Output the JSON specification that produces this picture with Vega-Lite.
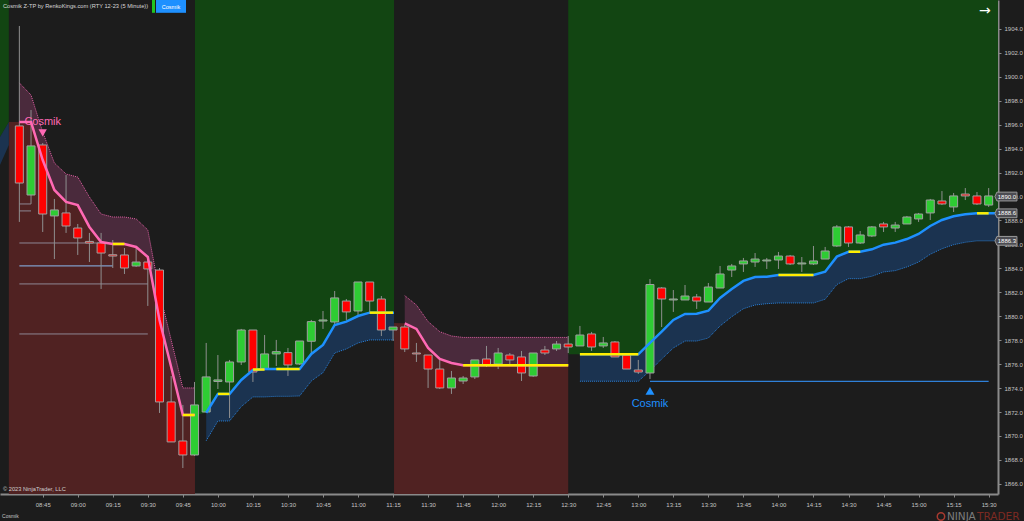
{
  "$schema": "https://vega.github.io/schema/vega-lite/v6.json",
  "width": 998,
  "height": 494,
  "autosize": {"type": "none"},
  "padding": {"left": 0, "top": 0, "right": 26, "bottom": 27},
  "background": "#1c1c1c",
  "config": {"view": {"stroke": null}, "font": "Liberation Sans"},
  "title": {
    "text": "Cosmik Z-TP by RenkoKings.com (RTY 12-23 (5 Minute))",
    "anchor": "start", "frame": "group", "offset": -9, "dx": 3,
    "fontSize": 5.7, "fontWeight": "normal", "color": "#d8d8d8", "font": "Liberation Sans"
  },
  "datasets": {
    "candles": [
      {"t":"2023-10-02T08:35:00Z","open":1895.90,"close":1891.13,"high":1904.25,"low":1887.88},
      {"t":"2023-10-02T08:40:00Z","open":1890.13,"close":1894.23,"high":1897.23,"low":1889.38},
      {"t":"2023-10-02T08:45:00Z","open":1894.31,"close":1888.54,"high":1894.47,"low":1887.04},
      {"t":"2023-10-02T08:50:00Z","open":1888.38,"close":1888.88,"high":1889.80,"low":1884.78},
      {"t":"2023-10-02T08:55:00Z","open":1888.63,"close":1887.54,"high":1891.80,"low":1886.96},
      {"t":"2023-10-02T09:00:00Z","open":1887.37,"close":1886.54,"high":1887.71,"low":1885.12},
      {"t":"2023-10-02T09:05:00Z","open":1886.25,"close":1886.12,"high":1886.96,"low":1884.53},
      {"t":"2023-10-02T09:10:00Z","open":1886.12,"close":1885.28,"high":1886.96,"low":1882.28},
      {"t":"2023-10-02T09:15:00Z","open":1885.14,"close":1885.03,"high":1886.37,"low":1884.03},
      {"t":"2023-10-02T09:20:00Z","open":1885.12,"close":1884.03,"high":1885.70,"low":1883.53},
      {"t":"2023-10-02T09:25:00Z","open":1884.20,"close":1884.53,"high":1885.87,"low":1884.12},
      {"t":"2023-10-02T09:30:00Z","open":1884.53,"close":1883.95,"high":1884.87,"low":1880.86},
      {"t":"2023-10-02T09:35:00Z","open":1883.86,"close":1872.84,"high":1884.03,"low":1871.92},
      {"t":"2023-10-02T09:40:00Z","open":1872.84,"close":1869.50,"high":1875.01,"low":1869.50},
      {"t":"2023-10-02T09:45:00Z","open":1869.58,"close":1868.41,"high":1872.59,"low":1867.32},
      {"t":"2023-10-02T09:50:00Z","open":1868.41,"close":1872.59,"high":1874.51,"low":1868.33},
      {"t":"2023-10-02T09:55:00Z","open":1872.00,"close":1874.93,"high":1877.77,"low":1872.00},
      {"t":"2023-10-02T10:00:00Z","open":1874.55,"close":1874.68,"high":1876.76,"low":1873.92},
      {"t":"2023-10-02T10:05:00Z","open":1874.51,"close":1876.18,"high":1876.35,"low":1871.50},
      {"t":"2023-10-02T10:10:00Z","open":1876.18,"close":1878.85,"high":1878.94,"low":1875.93},
      {"t":"2023-10-02T10:15:00Z","open":1878.85,"close":1875.34,"high":1878.85,"low":1874.51},
      {"t":"2023-10-02T10:20:00Z","open":1875.59,"close":1876.85,"high":1878.43,"low":1875.51},
      {"t":"2023-10-02T10:25:00Z","open":1876.85,"close":1877.04,"high":1878.02,"low":1875.84},
      {"t":"2023-10-02T10:30:00Z","open":1876.96,"close":1875.93,"high":1877.35,"low":1875.01},
      {"t":"2023-10-02T10:35:00Z","open":1876.01,"close":1877.93,"high":1877.93,"low":1875.93},
      {"t":"2023-10-02T10:40:00Z","open":1877.91,"close":1879.55,"high":1879.69,"low":1876.76},
      {"t":"2023-10-02T10:45:00Z","open":1879.60,"close":1879.69,"high":1880.44,"low":1878.94},
      {"t":"2023-10-02T10:50:00Z","open":1879.52,"close":1881.53,"high":1882.11,"low":1879.27},
      {"t":"2023-10-02T10:55:00Z","open":1881.27,"close":1880.36,"high":1881.44,"low":1879.69},
      {"t":"2023-10-02T11:00:00Z","open":1880.44,"close":1882.86,"high":1882.86,"low":1880.11},
      {"t":"2023-10-02T11:05:00Z","open":1882.86,"close":1881.27,"high":1882.86,"low":1880.27},
      {"t":"2023-10-02T11:10:00Z","open":1881.44,"close":1878.85,"high":1881.69,"low":1878.35},
      {"t":"2023-10-02T11:15:00Z","open":1878.85,"close":1879.10,"high":1879.10,"low":1877.93},
      {"t":"2023-10-02T11:20:00Z","open":1879.10,"close":1877.27,"high":1879.27,"low":1877.01},
      {"t":"2023-10-02T11:25:00Z","open":1876.93,"close":1876.85,"high":1877.77,"low":1876.18},
      {"t":"2023-10-02T11:30:00Z","open":1876.76,"close":1875.59,"high":1876.76,"low":1874.01},
      {"t":"2023-10-02T11:35:00Z","open":1875.59,"close":1874.01,"high":1876.43,"low":1873.92},
      {"t":"2023-10-02T11:40:00Z","open":1874.01,"close":1874.84,"high":1875.43,"low":1873.51},
      {"t":"2023-10-02T11:45:00Z","open":1874.59,"close":1874.84,"high":1875.01,"low":1874.34},
      {"t":"2023-10-02T11:50:00Z","open":1874.93,"close":1876.35,"high":1876.35,"low":1874.76},
      {"t":"2023-10-02T11:55:00Z","open":1876.43,"close":1875.93,"high":1877.52,"low":1875.76},
      {"t":"2023-10-02T12:00:00Z","open":1876.01,"close":1876.93,"high":1877.35,"low":1875.59},
      {"t":"2023-10-02T12:05:00Z","open":1876.76,"close":1876.35,"high":1876.93,"low":1876.01},
      {"t":"2023-10-02T12:10:00Z","open":1876.60,"close":1875.26,"high":1877.10,"low":1874.59},
      {"t":"2023-10-02T12:15:00Z","open":1875.01,"close":1876.93,"high":1876.93,"low":1874.93},
      {"t":"2023-10-02T12:20:00Z","open":1877.18,"close":1876.93,"high":1877.52,"low":1876.76},
      {"t":"2023-10-02T12:25:00Z","open":1877.27,"close":1877.68,"high":1877.93,"low":1877.10},
      {"t":"2023-10-02T12:30:00Z","open":1877.68,"close":1877.43,"high":1878.35,"low":1876.93},
      {"t":"2023-10-02T12:35:00Z","open":1877.52,"close":1878.43,"high":1879.19,"low":1877.52},
      {"t":"2023-10-02T12:40:00Z","open":1878.52,"close":1877.43,"high":1878.69,"low":1877.10},
      {"t":"2023-10-02T12:45:00Z","open":1877.52,"close":1877.77,"high":1878.27,"low":1877.35},
      {"t":"2023-10-02T12:50:00Z","open":1877.85,"close":1876.60,"high":1877.93,"low":1876.60},
      {"t":"2023-10-02T12:55:00Z","open":1876.76,"close":1875.59,"high":1876.76,"low":1875.59},
      {"t":"2023-10-02T13:00:00Z","open":1875.51,"close":1875.34,"high":1876.35,"low":1875.18},
      {"t":"2023-10-02T13:05:00Z","open":1875.26,"close":1882.65,"high":1883.11,"low":1874.76},
      {"t":"2023-10-02T13:10:00Z","open":1882.36,"close":1881.44,"high":1882.44,"low":1879.10},
      {"t":"2023-10-02T13:15:00Z","open":1881.36,"close":1881.44,"high":1882.19,"low":1880.36},
      {"t":"2023-10-02T13:20:00Z","open":1881.36,"close":1881.69,"high":1882.61,"low":1881.36},
      {"t":"2023-10-02T13:25:00Z","open":1881.61,"close":1881.27,"high":1881.86,"low":1880.61},
      {"t":"2023-10-02T13:30:00Z","open":1881.19,"close":1882.44,"high":1882.78,"low":1881.19},
      {"t":"2023-10-02T13:35:00Z","open":1882.36,"close":1883.53,"high":1884.20,"low":1882.36},
      {"t":"2023-10-02T13:40:00Z","open":1883.86,"close":1884.20,"high":1884.37,"low":1883.28},
      {"t":"2023-10-02T13:45:00Z","open":1884.37,"close":1884.62,"high":1884.87,"low":1883.70},
      {"t":"2023-10-02T13:50:00Z","open":1884.53,"close":1884.78,"high":1885.28,"low":1884.12},
      {"t":"2023-10-02T13:55:00Z","open":1884.62,"close":1884.70,"high":1884.87,"low":1883.95},
      {"t":"2023-10-02T14:00:00Z","open":1884.70,"close":1885.03,"high":1885.37,"low":1883.95},
      {"t":"2023-10-02T14:05:00Z","open":1885.03,"close":1884.37,"high":1885.12,"low":1884.28},
      {"t":"2023-10-02T14:10:00Z","open":1884.37,"close":1884.45,"high":1884.95,"low":1883.70},
      {"t":"2023-10-02T14:15:00Z","open":1884.37,"close":1884.62,"high":1885.87,"low":1884.28},
      {"t":"2023-10-02T14:20:00Z","open":1884.78,"close":1885.45,"high":1885.79,"low":1884.78},
      {"t":"2023-10-02T14:25:00Z","open":1885.87,"close":1887.46,"high":1887.62,"low":1885.79},
      {"t":"2023-10-02T14:30:00Z","open":1887.46,"close":1886.12,"high":1887.54,"low":1885.79},
      {"t":"2023-10-02T14:35:00Z","open":1886.12,"close":1886.79,"high":1887.12,"low":1886.04},
      {"t":"2023-10-02T14:40:00Z","open":1886.71,"close":1887.46,"high":1887.54,"low":1886.62},
      {"t":"2023-10-02T14:45:00Z","open":1887.71,"close":1887.46,"high":1887.88,"low":1887.04},
      {"t":"2023-10-02T14:50:00Z","open":1887.37,"close":1887.62,"high":1887.88,"low":1887.04},
      {"t":"2023-10-02T14:55:00Z","open":1887.71,"close":1888.29,"high":1888.38,"low":1887.71},
      {"t":"2023-10-02T15:00:00Z","open":1888.13,"close":1888.54,"high":1888.63,"low":1887.88},
      {"t":"2023-10-02T15:05:00Z","open":1888.63,"close":1889.71,"high":1889.80,"low":1888.04},
      {"t":"2023-10-02T15:10:00Z","open":1889.63,"close":1889.38,"high":1890.46,"low":1889.29},
      {"t":"2023-10-02T15:15:00Z","open":1889.13,"close":1890.05,"high":1890.30,"low":1888.71},
      {"t":"2023-10-02T15:20:00Z","open":1890.21,"close":1890.05,"high":1890.71,"low":1889.71},
      {"t":"2023-10-02T15:25:00Z","open":1890.05,"close":1889.38,"high":1890.38,"low":1889.29},
      {"t":"2023-10-02T15:30:00Z","open":1889.29,"close":1890.05,"high":1890.71,"low":1889.13}
    ],
    "ribbon": [
      {"t":"2023-10-02T08:26:43Z","seg":"A","trend":"up","mid":1894.98,"edge":1892.64},
      {"t":"2023-10-02T08:30:30Z","seg":"A","trend":"up","mid":1896.23,"edge":1894.31},
      {"t":"2023-10-02T08:30:30Z","seg":"B","trend":"down","mid":1896.23,"edge":null},
      {"t":"2023-10-02T08:35:00Z","seg":"B","trend":"down","mid":1896.23,"edge":1899.49},
      {"t":"2023-10-02T08:40:00Z","seg":"B","trend":"down","mid":1896.23,"edge":1898.48},
      {"t":"2023-10-02T08:45:00Z","seg":"B","trend":"down","mid":1893.05,"edge":1895.39},
      {"t":"2023-10-02T08:50:00Z","seg":"B","trend":"down","mid":1890.55,"edge":1892.80},
      {"t":"2023-10-02T08:55:00Z","seg":"B","trend":"down","mid":1889.55,"edge":1891.88},
      {"t":"2023-10-02T09:00:00Z","seg":"B","trend":"down","mid":1889.29,"edge":1891.63},
      {"t":"2023-10-02T09:05:00Z","seg":"B","trend":"down","mid":1887.46,"edge":1889.96},
      {"t":"2023-10-02T09:10:00Z","seg":"B","trend":"down","mid":1886.20,"edge":1888.54},
      {"t":"2023-10-02T09:15:00Z","seg":"B","trend":"down","mid":1886.04,"edge":1888.29},
      {"t":"2023-10-02T09:20:00Z","seg":"B","trend":"down","mid":1886.04,"edge":1888.29},
      {"t":"2023-10-02T09:25:00Z","seg":"B","trend":"down","mid":1885.79,"edge":1888.13},
      {"t":"2023-10-02T09:30:00Z","seg":"B","trend":"down","mid":1884.95,"edge":1887.21},
      {"t":"2023-10-02T09:35:00Z","seg":"B","trend":"down","mid":1879.69,"edge":1882.03},
      {"t":"2023-10-02T09:40:00Z","seg":"B","trend":"down","mid":1875.76,"edge":1878.02},
      {"t":"2023-10-02T09:45:00Z","seg":"B","trend":"down","mid":1871.75,"edge":1874.01},
      {"t":"2023-10-02T09:50:12Z","seg":"B","trend":"down","mid":1871.75,"edge":1874.01},
      {"t":"2023-10-02T09:50:12Z","seg":"C","trend":"up","mid":1871.75,"edge":null},
      {"t":"2023-10-02T09:55:00Z","seg":"C","trend":"up","mid":1871.94,"edge":1869.60},
      {"t":"2023-10-02T10:00:00Z","seg":"C","trend":"up","mid":1873.51,"edge":1871.25},
      {"t":"2023-10-02T10:05:00Z","seg":"C","trend":"up","mid":1873.51,"edge":1871.25},
      {"t":"2023-10-02T10:10:00Z","seg":"C","trend":"up","mid":1874.68,"edge":1872.45},
      {"t":"2023-10-02T10:15:00Z","seg":"C","trend":"up","mid":1875.51,"edge":1873.26},
      {"t":"2023-10-02T10:20:00Z","seg":"C","trend":"up","mid":1875.59,"edge":1873.26},
      {"t":"2023-10-02T10:25:00Z","seg":"C","trend":"up","mid":1875.59,"edge":1873.31},
      {"t":"2023-10-02T10:30:00Z","seg":"C","trend":"up","mid":1875.59,"edge":1873.31},
      {"t":"2023-10-02T10:35:00Z","seg":"C","trend":"up","mid":1875.59,"edge":1873.34},
      {"t":"2023-10-02T10:40:00Z","seg":"C","trend":"up","mid":1876.85,"edge":1874.59},
      {"t":"2023-10-02T10:45:00Z","seg":"C","trend":"up","mid":1877.60,"edge":1875.29},
      {"t":"2023-10-02T10:50:00Z","seg":"C","trend":"up","mid":1879.27,"edge":1876.93},
      {"t":"2023-10-02T10:55:00Z","seg":"C","trend":"up","mid":1879.55,"edge":1877.27},
      {"t":"2023-10-02T11:00:00Z","seg":"C","trend":"up","mid":1880.02,"edge":1877.77},
      {"t":"2023-10-02T11:05:00Z","seg":"C","trend":"up","mid":1880.30,"edge":1878.02},
      {"t":"2023-10-02T11:10:00Z","seg":"C","trend":"up","mid":1880.30,"edge":1878.02},
      {"t":"2023-10-02T11:15:25Z","seg":"C","trend":"up","mid":1880.30,"edge":1878.02},
      {"t":"2023-10-02T11:15:25Z","seg":"D","trend":"down","mid":1879.44,"edge":null},
      {"t":"2023-10-02T11:20:00Z","seg":"D","trend":"down","mid":1879.41,"edge":1881.72},
      {"t":"2023-10-02T11:25:00Z","seg":"D","trend":"down","mid":1878.94,"edge":1880.94},
      {"t":"2023-10-02T11:30:00Z","seg":"D","trend":"down","mid":1877.35,"edge":1879.55},
      {"t":"2023-10-02T11:35:00Z","seg":"D","trend":"down","mid":1876.43,"edge":1878.71},
      {"t":"2023-10-02T11:40:00Z","seg":"D","trend":"down","mid":1876.09,"edge":1878.35},
      {"t":"2023-10-02T11:45:00Z","seg":"D","trend":"down","mid":1875.90,"edge":1878.23},
      {"t":"2023-10-02T12:00:00Z","seg":"D","trend":"down","mid":1875.90,"edge":1878.23},
      {"t":"2023-10-02T12:30:00Z","seg":"D","trend":"down","mid":1875.90,"edge":1878.23},
      {"t":"2023-10-02T12:30:00Z","seg":"E","trend":"up","mid":1876.82,"edge":null},
      {"t":"2023-10-02T12:35:00Z","seg":"E","trend":"up","mid":1876.82,"edge":1874.57},
      {"t":"2023-10-02T13:00:00Z","seg":"E","trend":"up","mid":1876.82,"edge":1874.57},
      {"t":"2023-10-02T13:05:00Z","seg":"E","trend":"up","mid":1877.77,"edge":1875.45},
      {"t":"2023-10-02T13:10:00Z","seg":"E","trend":"up","mid":1878.71,"edge":1876.43},
      {"t":"2023-10-02T13:15:00Z","seg":"E","trend":"up","mid":1879.69,"edge":1877.35},
      {"t":"2023-10-02T13:20:00Z","seg":"E","trend":"up","mid":1880.19,"edge":1877.93},
      {"t":"2023-10-02T13:25:00Z","seg":"E","trend":"up","mid":1880.21,"edge":1877.93},
      {"t":"2023-10-02T13:30:00Z","seg":"E","trend":"up","mid":1880.46,"edge":1878.18},
      {"t":"2023-10-02T13:35:00Z","seg":"E","trend":"up","mid":1881.53,"edge":1879.19},
      {"t":"2023-10-02T13:40:00Z","seg":"E","trend":"up","mid":1882.28,"edge":1879.96},
      {"t":"2023-10-02T13:45:00Z","seg":"E","trend":"up","mid":1882.95,"edge":1880.63},
      {"t":"2023-10-02T13:50:00Z","seg":"E","trend":"up","mid":1883.28,"edge":1880.94},
      {"t":"2023-10-02T13:55:00Z","seg":"E","trend":"up","mid":1883.30,"edge":1881.05},
      {"t":"2023-10-02T14:00:00Z","seg":"E","trend":"up","mid":1883.45,"edge":1881.11},
      {"t":"2023-10-02T14:15:00Z","seg":"E","trend":"up","mid":1883.45,"edge":1881.11},
      {"t":"2023-10-02T14:20:00Z","seg":"E","trend":"up","mid":1883.72,"edge":1881.42},
      {"t":"2023-10-02T14:25:00Z","seg":"E","trend":"up","mid":1884.98,"edge":1882.65},
      {"t":"2023-10-02T14:30:00Z","seg":"E","trend":"up","mid":1885.39,"edge":1883.14},
      {"t":"2023-10-02T14:35:00Z","seg":"E","trend":"up","mid":1885.39,"edge":1883.14},
      {"t":"2023-10-02T14:40:00Z","seg":"E","trend":"up","mid":1885.59,"edge":1883.34},
      {"t":"2023-10-02T14:45:00Z","seg":"E","trend":"up","mid":1885.98,"edge":1883.70},
      {"t":"2023-10-02T14:50:00Z","seg":"E","trend":"up","mid":1886.15,"edge":1883.81},
      {"t":"2023-10-02T14:55:00Z","seg":"E","trend":"up","mid":1886.45,"edge":1884.12},
      {"t":"2023-10-02T15:00:00Z","seg":"E","trend":"up","mid":1886.87,"edge":1884.53},
      {"t":"2023-10-02T15:05:00Z","seg":"E","trend":"up","mid":1887.54,"edge":1885.18},
      {"t":"2023-10-02T15:10:00Z","seg":"E","trend":"up","mid":1888.04,"edge":1885.64},
      {"t":"2023-10-02T15:15:00Z","seg":"E","trend":"up","mid":1888.35,"edge":1885.98},
      {"t":"2023-10-02T15:20:00Z","seg":"E","trend":"up","mid":1888.52,"edge":1886.18},
      {"t":"2023-10-02T15:25:00Z","seg":"E","trend":"up","mid":1888.60,"edge":1886.30},
      {"t":"2023-10-02T15:34:00Z","seg":"E","trend":"up","mid":1888.60,"edge":1886.30}
    ],
    "flat": [
      {"t":"2023-10-02T09:15:00Z","run":1,"mid":1886.04},{"t":"2023-10-02T09:20:00Z","run":1,"mid":1886.04},
      {"t":"2023-10-02T09:45:00Z","run":2,"mid":1871.75},{"t":"2023-10-02T09:50:00Z","run":2,"mid":1871.75},
      {"t":"2023-10-02T10:00:00Z","run":3,"mid":1873.51},{"t":"2023-10-02T10:05:00Z","run":3,"mid":1873.51},
      {"t":"2023-10-02T10:15:00Z","run":4,"mid":1875.55},{"t":"2023-10-02T10:20:00Z","run":4,"mid":1875.55},
      {"t":"2023-10-02T10:25:00Z","run":5,"mid":1875.59},{"t":"2023-10-02T10:35:00Z","run":5,"mid":1875.59},
      {"t":"2023-10-02T11:05:00Z","run":6,"mid":1880.30},{"t":"2023-10-02T11:15:00Z","run":6,"mid":1880.30},
      {"t":"2023-10-02T11:45:00Z","run":7,"mid":1875.90},{"t":"2023-10-02T12:30:00Z","run":7,"mid":1875.90},
      {"t":"2023-10-02T12:35:00Z","run":8,"mid":1876.82},{"t":"2023-10-02T13:00:00Z","run":8,"mid":1876.82},
      {"t":"2023-10-02T14:00:00Z","run":9,"mid":1883.45},{"t":"2023-10-02T14:15:00Z","run":9,"mid":1883.45},
      {"t":"2023-10-02T14:30:00Z","run":10,"mid":1885.39},{"t":"2023-10-02T14:35:00Z","run":10,"mid":1885.39},
      {"t":"2023-10-02T15:25:00Z","run":11,"mid":1888.60},{"t":"2023-10-02T15:30:00Z","run":11,"mid":1888.60}
    ],
    "levels": [
      {"t":"2023-10-02T08:35:00Z","level":"a","p":1886.12},{"t":"2023-10-02T09:10:00Z","level":"a","p":1886.12},
      {"t":"2023-10-02T08:35:00Z","level":"c","p":1882.70},{"t":"2023-10-02T09:30:00Z","level":"c","p":1882.70},
      {"t":"2023-10-02T08:35:00Z","level":"d","p":1878.52},{"t":"2023-10-02T09:30:00Z","level":"d","p":1878.52},
      {"t":"2023-10-02T08:35:00Z","level":"e","p":1889.38},{"t":"2023-10-02T08:40:00Z","level":"e","p":1889.38},
      {"t":"2023-10-02T08:35:00Z","level":"f","p":1888.80},{"t":"2023-10-02T08:40:00Z","level":"f","p":1888.80}
    ],
    "tags": [
      {"t":"2023-10-02T15:37:24Z","p":1890.0,"label":"1890.0"},
      {"t":"2023-10-02T15:37:24Z","p":1888.6,"label":"1888.6"},
      {"t":"2023-10-02T15:37:24Z","p":1886.3,"label":"1886.3"}
    ]
  },
  "encoding": {
    "x": {
      "field": "t",
      "type": "temporal",
      "scale": {"type": "utc", "domain": ["2023-10-02T08:26:43Z", "2023-10-02T15:34:00Z"], "nice": false, "padding": 0},
      "axis": {
        "title": null, "format": "%H:%M", "grid": false, "tickCount": 28,
        "values": ["2023-10-02T08:45:00Z","2023-10-02T09:00:00Z","2023-10-02T09:15:00Z","2023-10-02T09:30:00Z","2023-10-02T09:45:00Z","2023-10-02T10:00:00Z","2023-10-02T10:15:00Z","2023-10-02T10:30:00Z","2023-10-02T10:45:00Z","2023-10-02T11:00:00Z","2023-10-02T11:15:00Z","2023-10-02T11:30:00Z","2023-10-02T11:45:00Z","2023-10-02T12:00:00Z","2023-10-02T12:15:00Z","2023-10-02T12:30:00Z","2023-10-02T12:45:00Z","2023-10-02T13:00:00Z","2023-10-02T13:15:00Z","2023-10-02T13:30:00Z","2023-10-02T13:45:00Z","2023-10-02T14:00:00Z","2023-10-02T14:15:00Z","2023-10-02T14:30:00Z","2023-10-02T14:45:00Z","2023-10-02T15:00:00Z","2023-10-02T15:15:00Z","2023-10-02T15:30:00Z"],
        "domainColor": "#8a8a8a", "domainWidth": 2, "tickColor": "#8a8a8a", "tickSize": 3,
        "labelColor": "#c4c4c4", "labelFontSize": 6, "labelPadding": 4, "labelFlush": false, "labelOverlap": false
      }
    }
  },
  "layer": [
    {
      "data": {"name": "ribbon"},
      "transform": [{"filter": "datum.trend == 'up'"}],
      "mark": {"type": "area", "color": "#124512"},
      "encoding": {
        "y": {
          "field": "mid", "type": "quantitative",
          "scale": {"domain": [1865.15, 1906.42], "nice": false, "zero": false},
          "axis": {
            "title": null, "orient": "right", "grid": false, "format": ".1f", "tickCount": 20,
            "values": [1866,1868,1870,1872,1874,1876,1878,1880,1882,1884,1886,1888,1890,1892,1894,1896,1898,1900,1902,1904],
            "domainColor": "#8a8a8a", "domainWidth": 2, "tickColor": "#8a8a8a", "tickSize": 3,
            "labelColor": "#c4c4c4", "labelFontSize": 6, "labelPadding": 3, "labelOverlap": false
          }
        },
        "y2": {"datum": 1906.42},
        "detail": {"field": "seg"}
      }
    },
    {
      "data": {"name": "ribbon"},
      "transform": [{"filter": "datum.trend == 'down'"}],
      "mark": {"type": "area", "color": "#502222"},
      "encoding": {
        "y": {"field": "mid", "type": "quantitative"},
        "y2": {"datum": 1865.15},
        "detail": {"field": "seg"}
      }
    },
    {
      "data": {"name": "ribbon"},
      "transform": [{"filter": "datum.trend == 'up' && datum.edge != null"}],
      "mark": {"type": "area", "color": "#1b3350"},
      "encoding": {
        "y": {"field": "mid", "type": "quantitative"},
        "y2": {"field": "edge"},
        "detail": {"field": "seg"}
      }
    },
    {
      "data": {"name": "ribbon"},
      "transform": [{"filter": "datum.trend == 'down' && datum.edge != null"}],
      "mark": {"type": "area", "color": "#4a2a3c"},
      "encoding": {
        "y": {"field": "mid", "type": "quantitative"},
        "y2": {"field": "edge"},
        "detail": {"field": "seg"}
      }
    },
    {
      "data": {"name": "ribbon"},
      "transform": [{"filter": "datum.trend == 'up' && datum.edge != null && datum.seg != 'A'"}],
      "mark": {"type": "line", "color": "#2a80d8", "strokeWidth": 1, "strokeDash": [1, 1]},
      "encoding": {
        "y": {"field": "edge", "type": "quantitative"},
        "detail": {"field": "seg"}
      }
    },
    {
      "data": {"name": "ribbon"},
      "transform": [{"filter": "datum.trend == 'down' && datum.edge != null"}],
      "mark": {"type": "line", "color": "#e060a4", "strokeWidth": 1, "strokeDash": [1, 1]},
      "encoding": {
        "y": {"field": "edge", "type": "quantitative"},
        "detail": {"field": "seg"}
      }
    },
    {
      "data": {"name": "levels"},
      "mark": {"type": "line", "color": "#8d8794", "strokeWidth": 1},
      "encoding": {
        "y": {"field": "p", "type": "quantitative"},
        "detail": {"field": "level"}
      }
    },
    {
      "data": {"values": [{"t":"2023-10-02T08:35:00Z","p":1884.20},{"t":"2023-10-02T09:15:00Z","p":1884.20}]},
      "mark": {"type": "line", "color": "#7f9cc8", "strokeWidth": 1.2},
      "encoding": {"y": {"field": "p", "type": "quantitative"}}
    },
    {
      "data": {"values": [{"t":"2023-10-02T13:05:00Z","p":1874.56},{"t":"2023-10-02T15:30:00Z","p":1874.56}]},
      "mark": {"type": "line", "color": "#2f80d8", "strokeWidth": 1.2},
      "encoding": {"y": {"field": "p", "type": "quantitative"}}
    },
    {
      "data": {"name": "candles"},
      "mark": {"type": "rule", "color": "#8f8f8f", "strokeWidth": 1},
      "encoding": {
        "y": {"field": "high", "type": "quantitative"},
        "y2": {"field": "low"}
      }
    },
    {
      "data": {"name": "candles"},
      "mark": {"type": "bar", "size": 8, "stroke": "#a0a0a0", "strokeWidth": 1},
      "encoding": {
        "y": {"field": "open", "type": "quantitative"},
        "y2": {"field": "close"},
        "color": {"condition": {"test": "datum.close >= datum.open", "value": "#2ecc33"}, "value": "#ff0000"}
      }
    },
    {
      "data": {"name": "ribbon"},
      "transform": [{"filter": "datum.trend == 'up' && datum.edge != null && datum.seg != 'A'"}],
      "mark": {"type": "line", "color": "#1e90ff", "strokeWidth": 2.5},
      "encoding": {
        "y": {"field": "mid", "type": "quantitative"},
        "detail": {"field": "seg"}
      }
    },
    {
      "data": {"name": "ribbon"},
      "transform": [{"filter": "datum.trend == 'down' && datum.edge != null"}],
      "mark": {"type": "line", "color": "#ff69b4", "strokeWidth": 2.5},
      "encoding": {
        "y": {"field": "mid", "type": "quantitative"},
        "detail": {"field": "seg"}
      }
    },
    {
      "data": {"name": "flat"},
      "mark": {"type": "line", "color": "#ffee00", "strokeWidth": 2.5},
      "encoding": {
        "y": {"field": "mid", "type": "quantitative"},
        "detail": {"field": "run"}
      }
    },
    {
      "data": {"values": [{"t":"2023-10-02T08:45:00Z","p":1895.31}]},
      "mark": {"type": "point", "shape": "triangle-down", "filled": true, "size": 70, "color": "#ff69b4", "opacity": 1},
      "encoding": {"y": {"field": "p", "type": "quantitative"}}
    },
    {
      "data": {"values": [{"t":"2023-10-02T08:45:00Z","p":1896.23,"label":"Cosmik"}]},
      "mark": {"type": "text", "fontSize": 11, "color": "#ff69b4", "baseline": "middle"},
      "encoding": {"y": {"field": "p", "type": "quantitative"}, "text": {"field": "label"}}
    },
    {
      "data": {"values": [{"t":"2023-10-02T13:05:00Z","p":1873.76}]},
      "mark": {"type": "point", "shape": "triangle-up", "filled": true, "size": 80, "color": "#1e90ff", "opacity": 1},
      "encoding": {"y": {"field": "p", "type": "quantitative"}}
    },
    {
      "data": {"values": [{"t":"2023-10-02T13:05:00Z","p":1872.67,"label":"Cosmik"}]},
      "mark": {"type": "text", "fontSize": 11, "color": "#1e90ff", "baseline": "middle"},
      "encoding": {"y": {"field": "p", "type": "quantitative"}, "text": {"field": "label"}}
    },
    {
      "data": {"values": [{"t":"2023-10-02T09:31:48Z","t2":"2023-10-02T09:33:05Z","p":1906.42,"p2":1905.35}], "format": {"parse": {"t": "date", "t2": "date"}}},
      "mark": {"type": "rect", "color": "#22c422"},
      "encoding": {"x2": {"field": "t2"}, "y": {"field": "p", "type": "quantitative"}, "y2": {"field": "p2"}}
    },
    {
      "data": {"values": [{"t":"2023-10-02T09:33:30Z","t2":"2023-10-02T09:46:21Z","p":1906.42,"p2":1905.35}], "format": {"parse": {"t": "date", "t2": "date"}}},
      "mark": {"type": "rect", "color": "#1e90ff"},
      "encoding": {"x2": {"field": "t2"}, "y": {"field": "p", "type": "quantitative"}, "y2": {"field": "p2"}}
    },
    {
      "data": {"values": [{"t":"2023-10-02T09:39:55Z","p":1905.87,"label":"Cosmik"}]},
      "mark": {"type": "text", "fontSize": 5.5, "color": "#ffffff", "baseline": "middle"},
      "encoding": {"y": {"field": "p", "type": "quantitative"}, "text": {"field": "label"}}
    },
    {
      "data": {"values": [{"t":"2023-10-02T15:28:25Z","p":1905.5,"label":"→"}]},
      "mark": {"type": "text", "fontSize": 14, "color": "#ffffff", "baseline": "middle", "font": "DejaVu Sans"},
      "encoding": {"y": {"field": "p", "type": "quantitative"}, "text": {"field": "label"}}
    },
    {
      "data": {"values": [{"t":"2023-10-02T08:28:00Z","p":1865.57,"label":"© 2023 NinjaTrader, LLC"}]},
      "mark": {"type": "text", "fontSize": 5.7, "color": "#cfcfcf", "align": "left", "baseline": "middle"},
      "encoding": {"y": {"field": "p", "type": "quantitative"}, "text": {"field": "label"}}
    },
    {
      "data": {"values": [{"t":"2023-10-02T08:27:35Z","p":1863.31,"label":"Cosmik"}]},
      "mark": {"type": "text", "fontSize": 5, "color": "#c4c4c4", "align": "left", "baseline": "middle"},
      "encoding": {"y": {"field": "p", "type": "quantitative"}, "text": {"field": "label"}}
    },
    {
      "data": {"values": [{"t":"2023-10-02T15:09:35Z","p":1863.27}]},
      "mark": {"type": "point", "shape": "circle", "size": 55, "filled": false, "color": "#a83a30", "strokeWidth": 1.5, "opacity": 1},
      "encoding": {"y": {"field": "p", "type": "quantitative"}}
    },
    {
      "data": {"values": [{"t":"2023-10-02T15:12:07Z","p":1863.27,"label":"NINJA"}]},
      "mark": {"type": "text", "fontSize": 10.5, "font": "DejaVu Sans", "color": "#7d7d7d", "align": "left", "baseline": "middle"},
      "encoding": {"y": {"field": "p", "type": "quantitative"}, "text": {"field": "label"}}
    },
    {
      "data": {"values": [{"t":"2023-10-02T15:25:00Z","p":1863.27,"label":"TRADER"}]},
      "mark": {"type": "text", "fontSize": 10.5, "font": "DejaVu Sans", "color": "#7c2a22", "align": "left", "baseline": "middle"},
      "encoding": {"y": {"field": "p", "type": "quantitative"}, "text": {"field": "label"}}
    },
    {
      "data": {"name": "tags"},
      "mark": {"type": "point", "shape": "M-1,0L-0.82,-0.4L1,-0.4L1,0.4L-0.82,0.4Z", "size": 484, "filled": true, "color": "#4c4c52", "stroke": "#9a9a9a", "strokeWidth": 1, "opacity": 1},
      "encoding": {"y": {"field": "p", "type": "quantitative"}}
    },
    {
      "data": {"name": "tags"},
      "mark": {"type": "text", "fontSize": 6, "color": "#ffffff", "baseline": "middle", "dx": 1},
      "encoding": {"y": {"field": "p", "type": "quantitative"}, "text": {"field": "label"}}
    }
  ]
}
